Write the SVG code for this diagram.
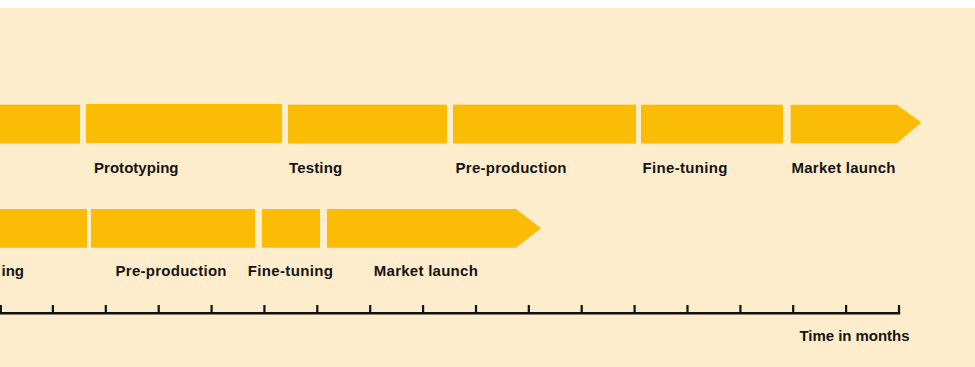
<svg xmlns="http://www.w3.org/2000/svg" width="975" height="367" viewBox="0 0 975 367">
<style>
.bar{fill:#FBBC05}
.lbl{font-family:"Liberation Sans",Arial,sans-serif;font-weight:bold;font-size:15px;fill:#141414}
.axis{stroke:#111;stroke-width:2.6;fill:none}
.tick{stroke:#111;stroke-width:2.2}
</style>
<rect x="0" y="0" width="975" height="367" fill="#ffffff"/>
<rect x="0" y="8" width="975" height="359" fill="#FEEDCC"/>
<g id="row1">
<g id="r1-n0"><rect class="bar" x="0" y="104.7" width="80" height="38.8"/></g>
<g id="r1-prototyping"><rect class="bar" x="86" y="104" width="196" height="39"/><text class="lbl" x="94" y="173.3" textLength="84.5">Prototyping</text></g>
<g id="r1-testing"><rect class="bar" x="288" y="104.7" width="159" height="38.8"/><text class="lbl" x="289" y="173.3" textLength="53.2">Testing</text></g>
<g id="r1-preproduction"><rect class="bar" x="453" y="104.7" width="183" height="38.8"/><text class="lbl" x="455.5" y="173.3" textLength="111">Pre-production</text></g>
<g id="r1-finetuning"><rect class="bar" x="641" y="104.7" width="142" height="38.8"/><text class="lbl" x="642.5" y="173.3" textLength="85">Fine-tuning</text></g>
<g id="r1-marketlaunch"><polygon class="bar" points="790.7,104.7 896.7,104.7 921.3,122.5 896.7,143.3 790.7,143.3"/><text class="lbl" x="791.5" y="173.3" textLength="104">Market launch</text></g>
</g>
<g id="row2">
<g id="r2-testing"><rect class="bar" x="0" y="209" width="87" height="38.7"/><text class="lbl" x="24" y="275.5" text-anchor="end">ing</text></g>
<g id="r2-preproduction"><rect class="bar" x="91" y="209" width="164" height="38.7"/><text class="lbl" x="115.5" y="275.5" textLength="111">Pre-production</text></g>
<g id="r2-finetuning"><rect class="bar" x="262" y="209" width="58" height="38.7"/><text class="lbl" x="247.8" y="275.5" textLength="85">Fine-tuning</text></g>
<g id="r2-marketlaunch"><polygon class="bar" points="327,209 516,209 541,228.3 516,247.7 327,247.7"/><text class="lbl" x="373.8" y="275.5" textLength="104">Market launch</text></g>
</g>
<g id="axis">
<line class="axis" x1="0" y1="313.3" x2="900.2" y2="313.3"/>
<g class="tick">
<line x1="0.8" y1="305" x2="0.8" y2="313"/>
<line x1="52.9" y1="305" x2="52.9" y2="313"/>
<line x1="105.8" y1="305" x2="105.8" y2="313"/>
<line x1="158.7" y1="305" x2="158.7" y2="313"/>
<line x1="211.6" y1="305" x2="211.6" y2="313"/>
<line x1="264.4" y1="305" x2="264.4" y2="313"/>
<line x1="317.3" y1="305" x2="317.3" y2="313"/>
<line x1="370.2" y1="305" x2="370.2" y2="313"/>
<line x1="423.1" y1="305" x2="423.1" y2="313"/>
<line x1="476" y1="305" x2="476" y2="313"/>
<line x1="528.8" y1="305" x2="528.8" y2="313"/>
<line x1="581.7" y1="305" x2="581.7" y2="313"/>
<line x1="634.6" y1="305" x2="634.6" y2="313"/>
<line x1="687.5" y1="305" x2="687.5" y2="313"/>
<line x1="740.4" y1="305" x2="740.4" y2="313"/>
<line x1="793.2" y1="305" x2="793.2" y2="313"/>
<line x1="846.1" y1="305" x2="846.1" y2="313"/>
<line x1="899" y1="305" x2="899" y2="313"/>
</g>
<text class="lbl" x="799.5" y="340.5" textLength="110">Time in months</text>
</g>
</svg>
